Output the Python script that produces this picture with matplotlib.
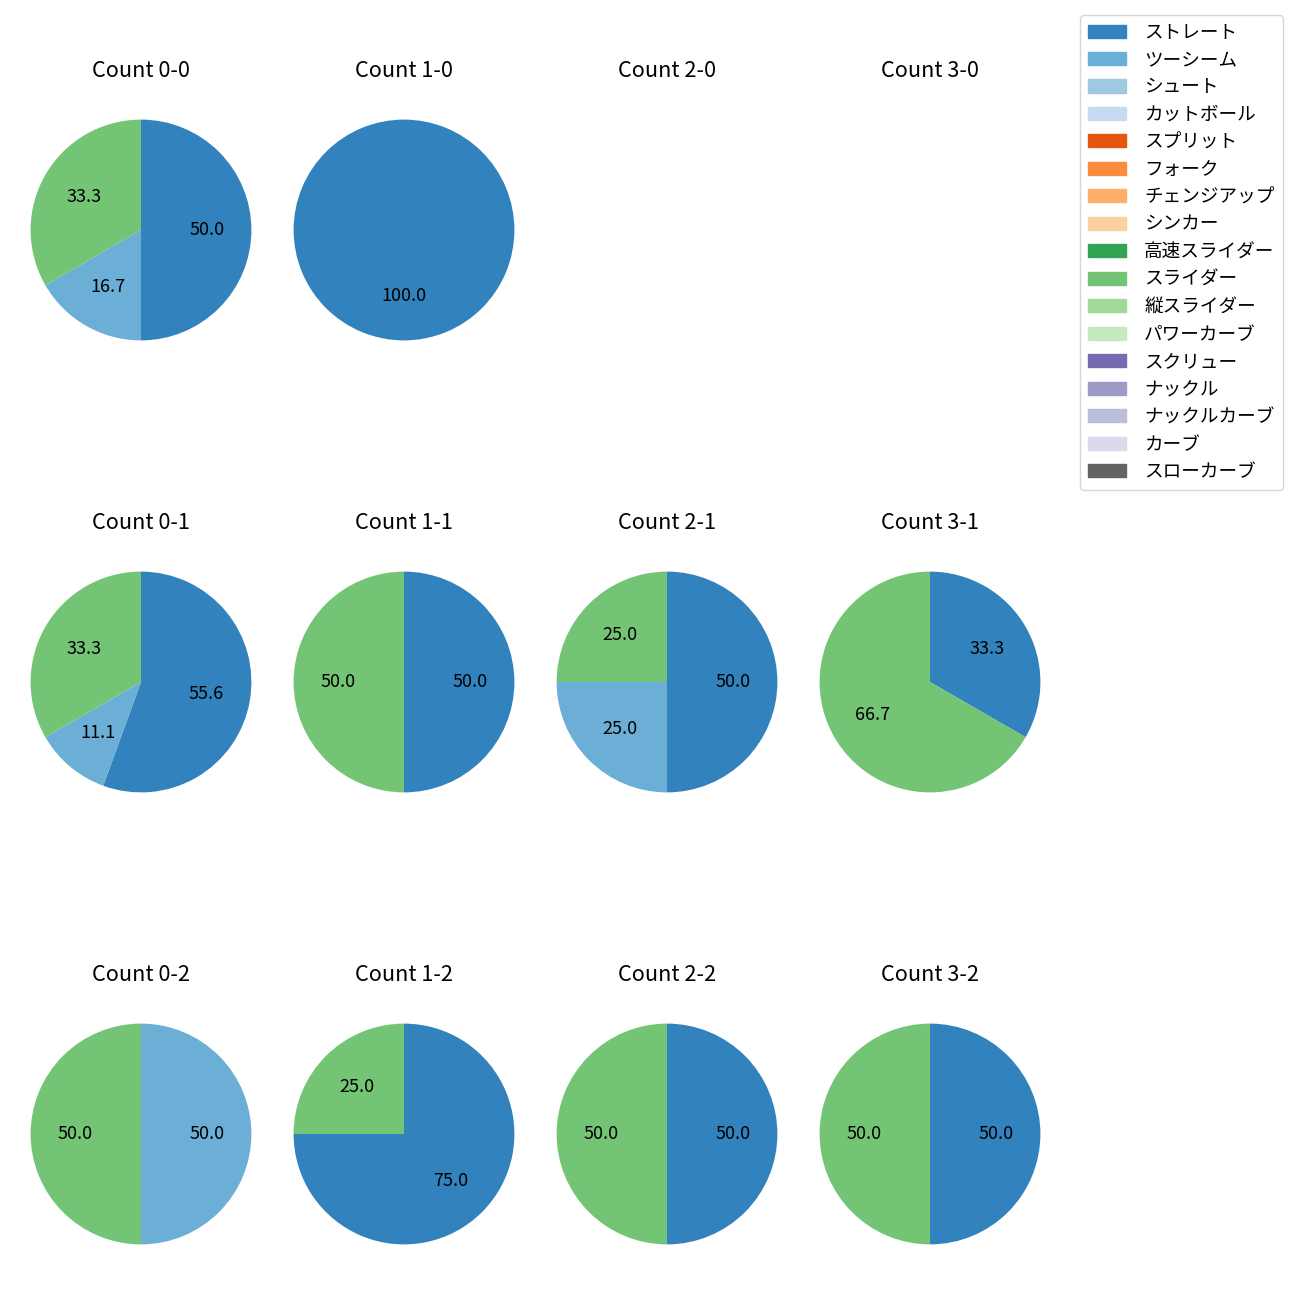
import matplotlib
matplotlib.use("Agg")
import matplotlib.pyplot as plt
import matplotlib.patches as mpatches

plt.rcParams["font.family"] = ["Noto Sans CJK JP", "DejaVu Sans"]

pitch_types = [
    "ストレート", "ツーシーム", "シュート", "カットボール", "スプリット",
    "フォーク", "チェンジアップ", "シンカー", "高速スライダー", "スライダー",
    "縦スライダー", "パワーカーブ", "スクリュー", "ナックル", "ナックルカーブ",
    "カーブ", "スローカーブ",
]

# pitch counts per ball-strike count (ストレート, ツーシーム, スライダー)
counts = ["0-0", "1-0", "2-0", "3-0",
          "0-1", "1-1", "2-1", "3-1",
          "0-2", "1-2", "2-2", "3-2"]
straight = [3, 1, 0, 0, 5, 1, 2, 1, 0, 3, 1, 1]
twoseam = [1, 0, 0, 0, 1, 0, 1, 0, 1, 0, 0, 0]
slider = [2, 0, 0, 0, 3, 1, 1, 2, 1, 1, 1, 1]

cmap = plt.get_cmap("tab20c")
colors = {name: cmap(i) for i, name in enumerate(pitch_types)}

fig = plt.figure(figsize=(13, 13), dpi=100)

size = 276 / 1300
col_x = [141, 404, 667, 930]
row_y = [230, 682, 1134]

for k, cnt in enumerate(counts):
    r, c = divmod(k, 4)
    cx = col_x[c] / 1300
    cy = 1 - row_y[r] / 1300
    ax = fig.add_axes([cx - size / 2, cy - size / 2, size, size])
    ax.set_title(f"Count {cnt}", fontsize=15.6, pad=11)
    vals = []
    cols = []
    for name, arr in (("ストレート", straight), ("ツーシーム", twoseam), ("スライダー", slider)):
        if arr[k] > 0:
            vals.append(arr[k])
            cols.append(colors[name])
    if vals:
        ax.pie(vals, colors=cols, startangle=90, counterclock=False,
               autopct="%.1f", textprops={"fontsize": 13})
    else:
        ax.axis("off")

handles = [mpatches.Patch(color=colors[n], label=n) for n in pitch_types]
fig.legend(handles=handles, loc="upper right", bbox_to_anchor=(0.994, 0.9955),
           fontsize=13.4, handletextpad=1.0, labelspacing=0.51,
           borderpad=0.45)

fig.savefig("out.png")
